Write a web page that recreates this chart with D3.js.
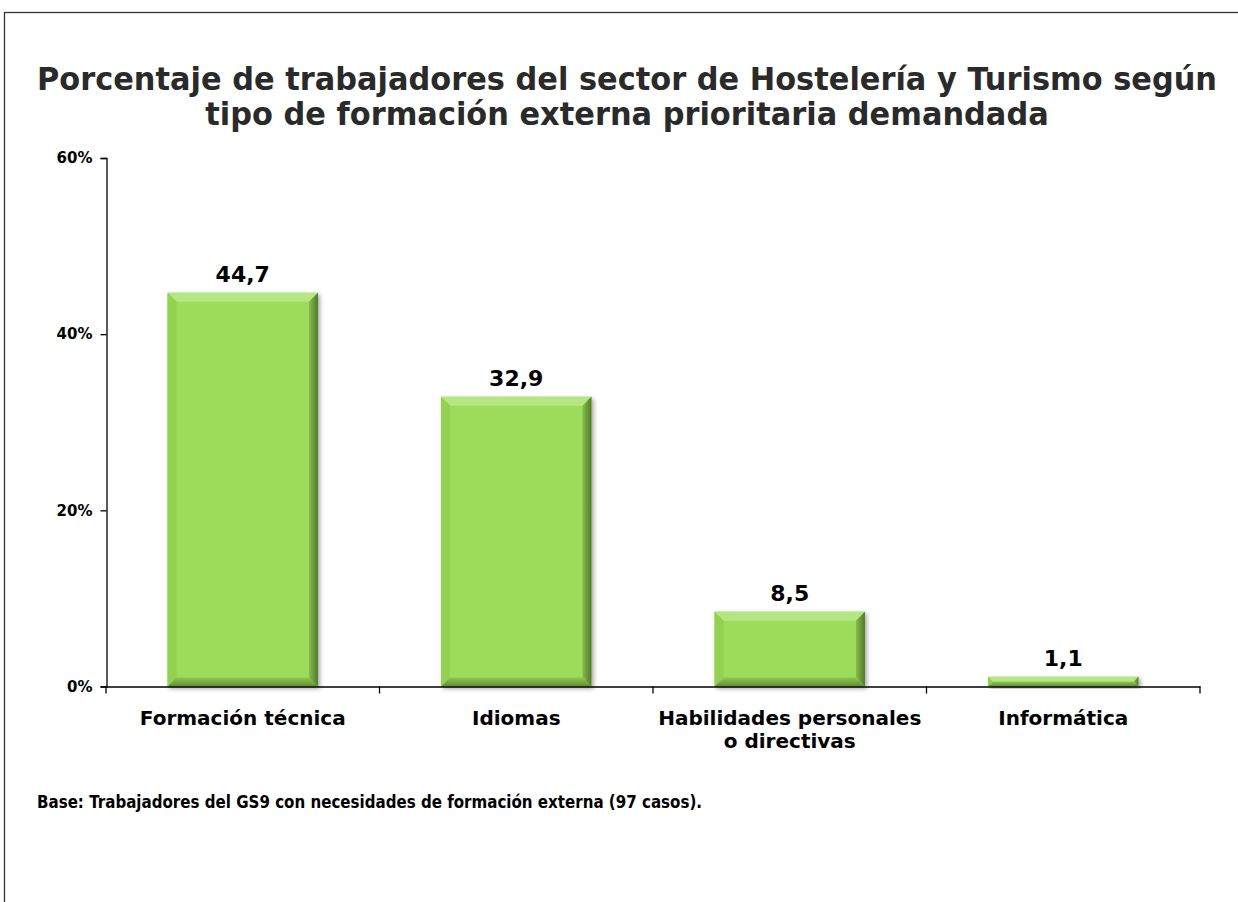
<!DOCTYPE html>
<html>
<head>
<meta charset="utf-8">
<script src="https://cdn.jsdelivr.net/npm/d3@7"></script>
<style>
  body { margin: 0; background: #fff; }
  svg text { font-family: Tahoma, "DejaVu Sans", Verdana, sans-serif; font-weight: bold; }
</style>
</head>
<body>
<div id="chart"></div>
<script>
// data
var categories = ["Formación técnica", "Idiomas", "Habilidades personales o directivas", "Informática"];
var categoryLines = [["Formación técnica"], ["Idiomas"], ["Habilidades personales", "o directivas"], ["Informática"]];
var values = [44.7, 32.9, 8.5, 1.1];
var yTicks = [0, 20, 40, 60];
var titleLines = ["Porcentaje de trabajadores del sector de Hostelería y Turismo según",
                  "tipo de formación externa prioritaria demandada"];
var footNote = "Base: Trabajadores del GS9 con necesidades de formación externa (97 casos).";

var width = 1238, height = 902;

var svg = d3.select("#chart").append("svg")
  .attr("width", width)
  .attr("height", height);

// outer frame (runs off the right and bottom edges)
svg.append("rect")
  .attr("x", 4.5).attr("y", 12.5)
  .attr("width", width + 20).attr("height", height + 20)
  .attr("fill", "none")
  .attr("stroke", "#333")
  .attr("stroke-width", 1.3);

var defs = svg.append("defs");
var shadow = defs.append("filter").attr("id", "shadow")
  .attr("x", "-10%").attr("y", "-10%").attr("width", "130%").attr("height", "130%");
shadow.append("feDropShadow")
  .attr("dx", 2).attr("dy", 2).attr("stdDeviation", 2)
  .attr("flood-color", "#000").attr("flood-opacity", 0.35);

var rightGrad = defs.append("linearGradient").attr("id", "rightBevel")
  .attr("x1", "0%").attr("x2", "100%").attr("y1", "0%").attr("y2", "0%");
rightGrad.append("stop").attr("offset", "0%").attr("stop-color", "#86bd4c");
rightGrad.append("stop").attr("offset", "100%").attr("stop-color", "#4f7a2a");

var bottomGrad = defs.append("linearGradient").attr("id", "bottomBevel")
  .attr("x1", "0%").attr("x2", "0%").attr("y1", "0%").attr("y2", "100%");
bottomGrad.append("stop").attr("offset", "0%").attr("stop-color", "#8ec653");
bottomGrad.append("stop").attr("offset", "100%").attr("stop-color", "#5f8f33");

var x = d3.scaleBand()
  .domain(categories)
  .range([106, 1200])
  .paddingInner(0.45)
  .paddingOuter(0.225);

var y = d3.scaleLinear()
  .domain([0, 60])
  .range([686.5, 158]);

var comma = d3.formatLocale({ decimal: ",", thousands: ".", grouping: [3], currency: ["", "€"] }).format(".1f");

// shrink a text to a target width if the fallback font runs wider
function fit(sel, w) {
  sel.each(function () {
    var len = this.getComputedTextLength();
    if (len > w) {
      d3.select(this).attr("textLength", w).attr("lengthAdjust", "spacingAndGlyphs");
    }
  });
}

// title
var title = svg.append("g").attr("class", "title");
title.selectAll("text")
  .data(titleLines)
  .join("text")
  .attr("x", 627)
  .attr("y", function (d, i) { return 90 + i * 35; })
  .attr("text-anchor", "middle")
  .attr("fill", "#2a2a2a")
  .style("font-size", "32px")
  .text(function (d) { return d; });

var t1 = title.select("text").node();
var ratio = Math.min(1, 1180 / t1.getComputedTextLength());
title.selectAll("text").each(function () {
  if (ratio < 1) {
    d3.select(this)
      .attr("textLength", this.getComputedTextLength() * ratio)
      .attr("lengthAdjust", "spacingAndGlyphs");
  }
});

// y axis
var yAxis = svg.append("g")
  .attr("transform", "translate(106.5,0)")
  .call(d3.axisLeft(y).tickValues(yTicks).tickSize(6).tickPadding(8)
    .tickFormat(function (d) { return d + "%"; }));
yAxis.attr("font-size", null).attr("font-family", null);
yAxis.select(".domain").attr("stroke", "#000").attr("stroke-width", 1.3);
yAxis.selectAll(".tick line").attr("stroke", "#000").attr("stroke-width", 1.3);
yAxis.selectAll(".tick text")
  .attr("fill", "#000")
  .style("font-size", "15px");

// bars with bevel
var bevel = 9;
var bars = svg.append("g").selectAll("g.bar")
  .data(values)
  .join("g")
  .attr("class", "bar")
  .attr("filter", "url(#shadow)");

bars.each(function (d, i) {
  var g = d3.select(this);
  var x0 = x(categories[i]), w = x.bandwidth();
  var y0 = y(d), h = y(0) - y(d);
  var b = Math.min(bevel, h / 2);
  var pts = function (arr) { return arr.map(function (p) { return p.join(","); }).join(" "); };

  g.append("rect")
    .attr("x", x0).attr("y", y0)
    .attr("width", w).attr("height", h)
    .attr("fill", "#9cdc5a");
  g.append("polygon")
    .attr("points", pts([[x0, y0], [x0 + w, y0], [x0 + w - b, y0 + b], [x0 + b, y0 + b]]))
    .attr("fill", "#b4e784");
  g.append("polygon")
    .attr("points", pts([[x0, y0], [x0 + b, y0 + b], [x0 + b, y0 + h - b], [x0, y0 + h]]))
    .attr("fill", "#92d250");
  g.append("polygon")
    .attr("points", pts([[x0 + w, y0], [x0 + w, y0 + h], [x0 + w - b, y0 + h - b], [x0 + w - b, y0 + b]]))
    .attr("fill", "url(#rightBevel)");
  g.append("polygon")
    .attr("points", pts([[x0, y0 + h], [x0 + w, y0 + h], [x0 + w - b, y0 + h - b], [x0 + b, y0 + h - b]]))
    .attr("fill", "url(#bottomBevel)");
});

// value labels
svg.append("g").selectAll("text")
  .data(values)
  .join("text")
  .attr("x", function (d, i) { return x(categories[i]) + x.bandwidth() / 2; })
  .attr("y", function (d) { return y(d) - 11; })
  .attr("text-anchor", "middle")
  .attr("fill", "#000")
  .style("font-size", "22px")
  .text(function (d) { return comma(d); });

// x axis: line with ticks on the category boundaries
var xAxis = svg.append("g")
  .attr("transform", "translate(0," + y(0) + ")")
  .call(d3.axisBottom(x).tickSize(0).tickFormat(""));
xAxis.select(".domain").attr("stroke", "#000").attr("stroke-width", 1.3);

var step = x.step();
var bounds = d3.range(categories.length + 1).map(function (i) { return x.range()[0] + i * step; });
xAxis.selectAll("line.bound")
  .data(bounds)
  .join("line")
  .attr("class", "bound")
  .attr("x1", function (d) { return d; }).attr("x2", function (d) { return d; })
  .attr("y1", 0).attr("y2", 7)
  .attr("stroke", "#000")
  .attr("stroke-width", 1.3);

var catLabels = svg.append("g").selectAll("text")
  .data(categoryLines)
  .join("text")
  .attr("text-anchor", "middle")
  .attr("fill", "#000")
  .style("font-size", "20px");

catLabels.each(function (lines, i) {
  var cx = x(categories[i]) + x.bandwidth() / 2;
  d3.select(this).selectAll("tspan")
    .data(lines)
    .join("tspan")
    .attr("x", cx)
    .attr("y", function (d, j) { return 725 + j * 23; })
    .text(function (d) { return d; });
});

// footnote
svg.append("text")
  .attr("x", 37)
  .attr("y", 808)
  .attr("fill", "#000")
  .style("font-size", "17px")
  .text(footNote)
  .call(fit, 665);
</script>
</body>
</html>
